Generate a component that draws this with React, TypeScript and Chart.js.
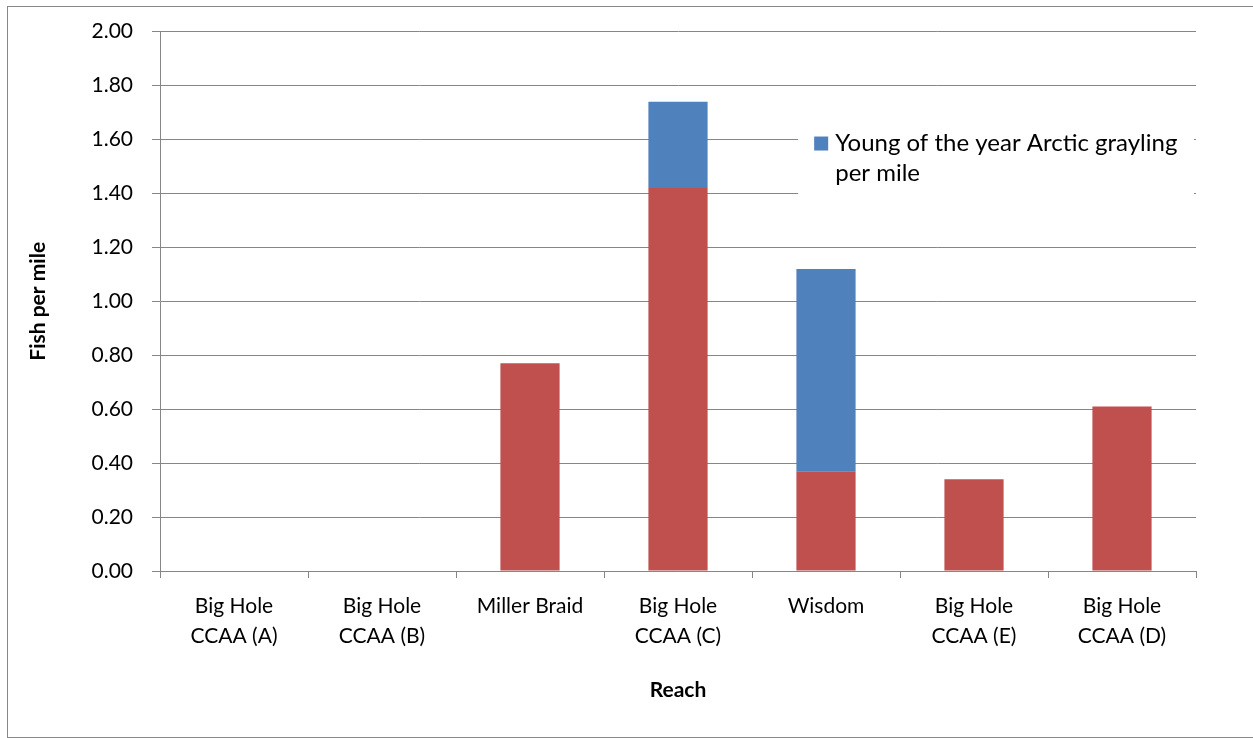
import React, { useEffect, useRef } from "react";
import { Chart, registerables } from "chart.js";

Chart.register(...registerables);

const categories: string[][] = [
  ["Big Hole", "CCAA (A)"],
  ["Big Hole", "CCAA (B)"],
  ["Miller Braid"],
  ["Big Hole", "CCAA (C)"],
  ["Wisdom"],
  ["Big Hole", "CCAA (E)"],
  ["Big Hole", "CCAA (D)"],
];

const adultPerMile: number[] = [0, 0, 0.77, 1.42, 0.37, 0.34, 0.61];
const youngPerMile: number[] = [0, 0, 0, 0.32, 0.75, 0, 0];

const legendLines: string[] = ["Young of the year Arctic grayling", "per mile"];

const yTitle = "Fish per mile";
const xTitle = "Reach";

const RED = "#C0504D";
const BLUE = "#4F81BD";
const GRID = "#868686";
const FONT = "Lato";

const legendPlugin = {
  id: "wrappedLegend",
  afterDraw(chart: any) {
    const { ctx, chartArea, scales } = chart;
    const y = scales.y;
    const w = chartArea.right - chartArea.left;
    const left = chartArea.left + w * 0.616;
    const right = chartArea.right - 2;
    const top = y.getPixelForValue(1.7);
    const bottom = y.getPixelForValue(1.3);
    ctx.save();
    ctx.fillStyle = "#ffffff";
    ctx.fillRect(left, top, right - left, bottom - top);
    const line1 = y.getPixelForValue(1.585);
    const lh = 30;
    ctx.fillStyle = BLUE;
    ctx.fillRect(left + 16, line1 - 7, 14, 14);
    ctx.fillStyle = "#000000";
    ctx.font = `24px ${FONT}`;
    ctx.textBaseline = "middle";
    ctx.textAlign = "left";
    legendLines.forEach((t, i) => {
      ctx.fillText(t, left + 37, line1 + i * lh);
    });
    ctx.restore();
  },
};

export default function App() {
  const ref = useRef<HTMLCanvasElement | null>(null);

  useEffect(() => {
    if (!ref.current) return;
    const chart = new Chart(ref.current, {
      type: "bar",
      data: {
        labels: categories,
        datasets: [
          {
            label: "Arctic grayling per mile",
            data: adultPerMile,
            backgroundColor: RED,
            borderWidth: 0,
            barPercentage: 0.4,
            categoryPercentage: 1,
          },
          {
            label: "Young of the year Arctic grayling per mile",
            data: youngPerMile,
            backgroundColor: BLUE,
            borderWidth: 0,
            barPercentage: 0.4,
            categoryPercentage: 1,
          },
        ],
      },
      options: {
        animation: false,
        responsive: false,
        devicePixelRatio: 1,
        layout: { padding: { top: 29, right: 57, left: 0, bottom: 0 } },
        plugins: {
          legend: { display: false },
          tooltip: { enabled: false },
        },
        scales: {
          x: {
            stacked: true,
            afterFit: (s: any) => {
              s.height = 167;
            },
            grid: {
              offset: true,
              drawOnChartArea: false,
              drawTicks: true,
              tickLength: 7,
              color: GRID,
              lineWidth: 1,
            },
            border: { color: GRID, width: 1 },
            ticks: {
              color: "#000000",
              font: { family: FONT, size: 21, lineHeight: 1.45 },
              padding: 13,
              maxRotation: 0,
              autoSkip: false,
            },
            title: {
              display: true,
              text: xTitle,
              color: "#000000",
              font: { family: FONT, size: 21, weight: "bold", lineHeight: 1.2 },
              padding: { top: 0, bottom: 35 },
            },
          },
          y: {
            stacked: true,
            min: 0,
            max: 2,
            afterFit: (s: any) => {
              s.width = 160;
            },
            grid: {
              color: GRID,
              lineWidth: 1,
              drawTicks: true,
              tickLength: 8,
            },
            border: { color: GRID, width: 1 },
            ticks: {
              stepSize: 0.2,
              color: "#000000",
              font: { family: FONT, size: 21 },
              padding: 19,
              callback: (v: any) => Number(v).toFixed(2),
            },
            title: {
              display: true,
              text: yTitle,
              color: "#000000",
              font: { family: FONT, size: 21, weight: "bold", lineHeight: 1.2 },
              padding: { top: 26, bottom: 0 },
            },
          },
        },
      },
      plugins: [legendPlugin],
    });
    return () => chart.destroy();
  }, []);

  return (
    <div
      style={{
        position: "absolute",
        left: 0,
        top: 0,
        width: 1253,
        height: 738,
        overflow: "hidden",
        background: "#ffffff",
      }}
    >
      <div
        style={{
          position: "absolute",
          left: 7,
          top: 6,
          width: 1262,
          height: 732,
          boxSizing: "border-box",
          border: "1px solid #888888",
        }}
      />
      <canvas
        ref={ref}
        width={1253}
        height={738}
        style={{ position: "absolute", left: 0, top: 0, width: 1253, height: 738 }}
      />
    </div>
  );
}
